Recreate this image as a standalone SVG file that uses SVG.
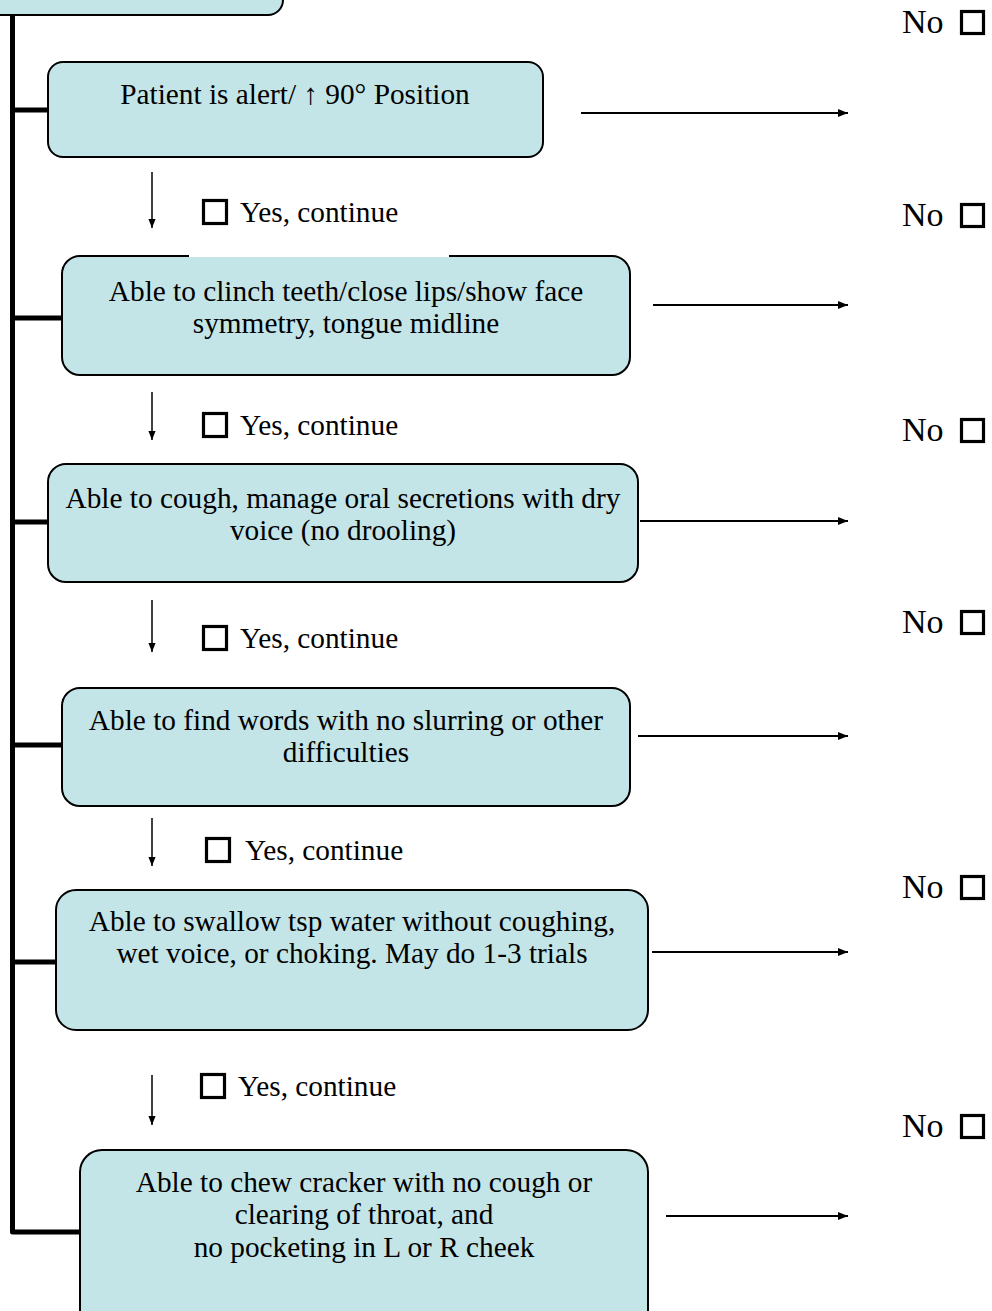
<svg xmlns="http://www.w3.org/2000/svg" width="992" height="1311" viewBox="0 0 992 1311">
<defs>
<marker id="ah" viewBox="0 0 10 10" refX="10" refY="5" markerWidth="10" markerHeight="10" markerUnits="userSpaceOnUse" orient="auto">
<path d="M0,1 L10,5 L0,9 Z" fill="#000"/>
</marker>
<marker id="ahs" viewBox="0 0 10 10" refX="10" refY="5" markerWidth="9" markerHeight="9" markerUnits="userSpaceOnUse" orient="auto">
<path d="M0,1 L10,5 L0,9 Z" fill="#000"/>
</marker>
</defs>
<style>
.box{fill:#C4E5E8;stroke:#000;stroke-width:2}
.t{font-family:"Liberation Serif","Times New Roman",serif;font-size:29.3px;fill:#000}
.tc{text-anchor:middle}
.no{font-family:"Liberation Serif","Times New Roman",serif;font-size:34px;fill:#000}
.cb{fill:none;stroke:#000;stroke-width:3.2}
.spine{fill:none;stroke:#000;stroke-width:5;stroke-linejoin:round}
.arr{stroke:#000;stroke-width:2;marker-end:url(#ah)}
.darr{stroke:#000;stroke-width:1.5;marker-end:url(#ahs)}
</style>
<rect width="992" height="1311" fill="#fff"/>
<g id="connectors">
<path class="spine" d="M12.5,15 L12.5,1232 L80,1232"/>
<line class="spine" x1="12.5" y1="110" x2="48" y2="110"/>
<line class="spine" x1="12.5" y1="318" x2="62" y2="318"/>
<line class="spine" x1="12.5" y1="522" x2="48" y2="522"/>
<line class="spine" x1="12.5" y1="745" x2="62" y2="745"/>
<line class="spine" x1="12.5" y1="962" x2="56" y2="962"/>
<line class="arr" x1="581" y1="113" x2="848" y2="113"/>
<line class="arr" x1="653" y1="305" x2="848" y2="305"/>
<line class="arr" x1="640" y1="521" x2="848" y2="521"/>
<line class="arr" x1="638" y1="736" x2="848" y2="736"/>
<line class="arr" x1="652" y1="952" x2="848" y2="952"/>
<line class="arr" x1="666" y1="1216" x2="848" y2="1216"/>
<line class="darr" x1="152" y1="172" x2="152" y2="228"/>
<line class="darr" x1="152" y1="392" x2="152" y2="440"/>
<line class="darr" x1="152" y1="600" x2="152" y2="652"/>
<line class="darr" x1="152" y1="818" x2="152" y2="866"/>
<line class="darr" x1="152" y1="1075" x2="152" y2="1125"/>
</g>
<g id="node-top">
<rect class="box" x="-20" y="-60" width="303" height="75" rx="15"/>
</g>
<g id="node-1">
<rect class="box" x="48" y="62" width="495" height="95" rx="15"/>
<text class="t tc" x="295" y="104">Patient is alert/ ↑ 90° Position</text>
</g>
<g id="node-2">
<rect class="box" x="62" y="256" width="568" height="119" rx="18"/>
<line x1="189" y1="256" x2="449" y2="256" stroke="#fff" stroke-width="2.2"/>
<text class="t tc" x="346" y="301">Able to clinch teeth/close lips/show face</text>
<text class="t tc" x="346" y="333">symmetry, tongue midline</text>
</g>
<g id="node-3">
<rect class="box" x="48" y="464" width="590" height="118" rx="18"/>
<text class="t tc" x="343" y="508">Able to cough, manage oral secretions with dry</text>
<text class="t tc" x="343" y="540">voice (no drooling)</text>
</g>
<g id="node-4">
<rect class="box" x="62" y="688" width="568" height="118" rx="18"/>
<text class="t tc" x="346" y="730">Able to find words with no slurring or other</text>
<text class="t tc" x="346" y="762">difficulties</text>
</g>
<g id="node-5">
<rect class="box" x="56" y="890" width="592" height="140" rx="20"/>
<text class="t tc" x="352" y="931">Able to swallow tsp water without coughing,</text>
<text class="t tc" x="352" y="963">wet voice, or choking. May do 1-3 trials</text>
</g>
<g id="node-6">
<rect class="box" x="80" y="1150" width="568" height="200" rx="22"/>
<text class="t tc" x="364" y="1192">Able to chew cracker with no cough or</text>
<text class="t tc" x="364" y="1224">clearing of throat, and</text>
<text class="t tc" x="364" y="1257">no pocketing in L or R cheek</text>
</g>
<g id="yes-labels">
<rect class="cb" x="203.5" y="200.5" width="23" height="23"/>
<text class="t" x="240" y="222">Yes, continue</text>
<rect class="cb" x="203.5" y="413.5" width="23" height="23"/>
<text class="t" x="240" y="435">Yes, continue</text>
<rect class="cb" x="203.5" y="626.5" width="23" height="23"/>
<text class="t" x="240" y="648">Yes, continue</text>
<rect class="cb" x="206.5" y="838.5" width="23" height="23"/>
<text class="t" x="245" y="860">Yes, continue</text>
<rect class="cb" x="201.5" y="1074.5" width="23" height="23"/>
<text class="t" x="238" y="1096">Yes, continue</text>
</g>
<g id="no-labels">
<text class="no" x="902" y="33">No</text>
<rect class="cb" x="961.5" y="11.5" width="22" height="22"/>
<text class="no" x="902" y="226">No</text>
<rect class="cb" x="961.5" y="204.5" width="22" height="22"/>
<text class="no" x="902" y="441">No</text>
<rect class="cb" x="961.5" y="419.5" width="22" height="22"/>
<text class="no" x="902" y="633">No</text>
<rect class="cb" x="961.5" y="611.5" width="22" height="22"/>
<text class="no" x="902" y="898">No</text>
<rect class="cb" x="961.5" y="876.5" width="22" height="22"/>
<text class="no" x="902" y="1137">No</text>
<rect class="cb" x="961.5" y="1115.5" width="22" height="22"/>
</g>
</svg>
